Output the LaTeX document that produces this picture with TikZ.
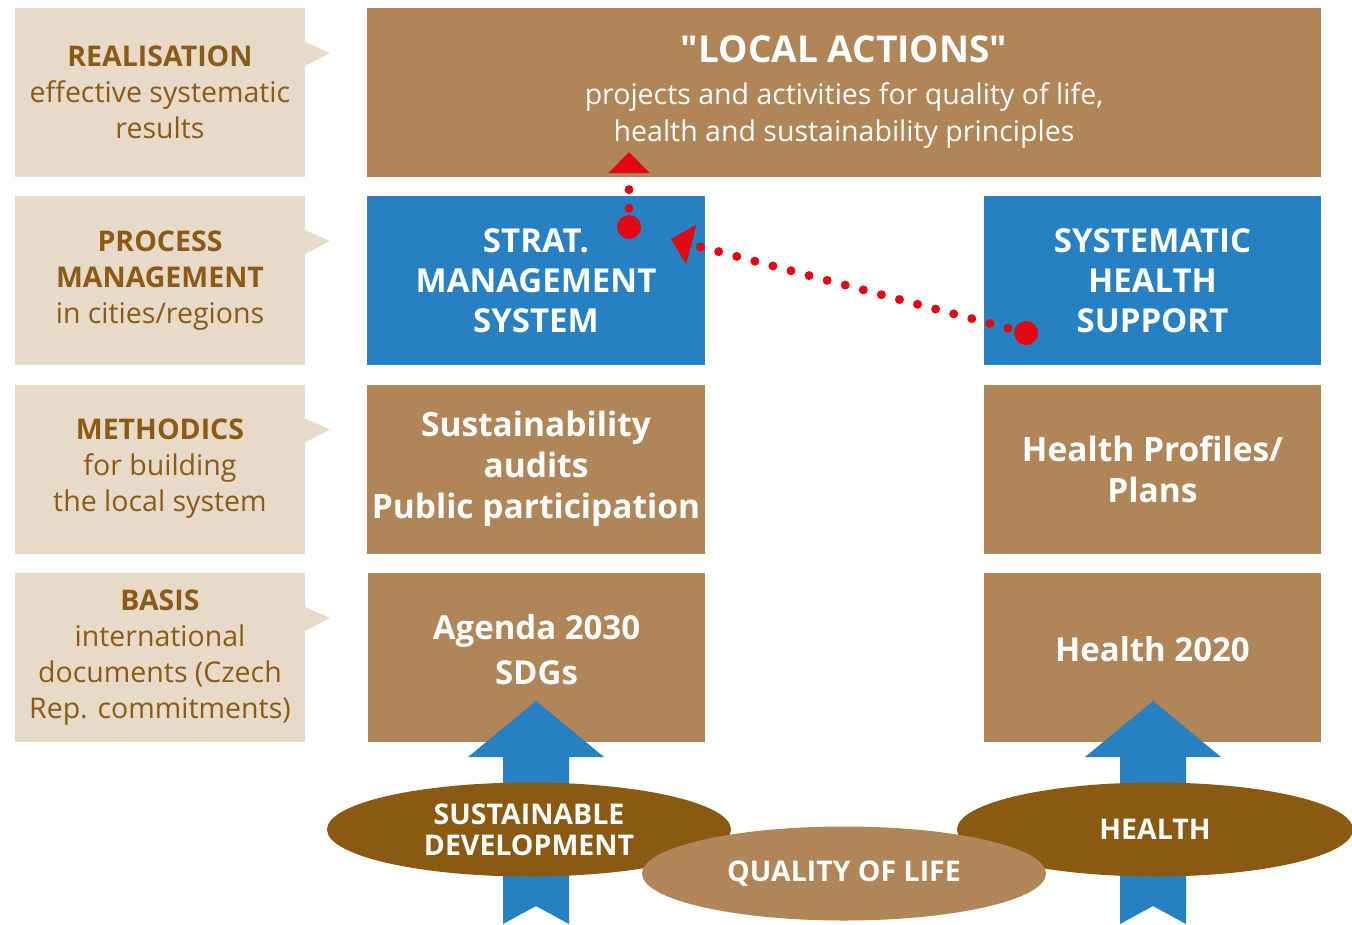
\documentclass[tikz,border=0pt]{standalone}
\usepackage{fontspec}
\setmainfont{Open Sans}[Ligatures=TeXOff]
\usepackage{xcolor}
\usepackage{tikz}
\usetikzlibrary{shapes.geometric,arrows.meta}

\definecolor{labfill}{HTML}{E8DAC8}
\definecolor{labtext}{HTML}{8B5A14}
\definecolor{boxbrown}{HTML}{B08557}
\definecolor{boxblue}{HTML}{2680C2}
\definecolor{darkbrown}{HTML}{8B5A12}
\definecolor{reddot}{HTML}{E30613}

\tikzset{
	lab/.style={fill=labfill,text=labtext,minimum width=290pt,minimum height=169pt,align=center,inner sep=0pt,outer sep=0pt,font=\fontsize{28.5}{36}\selectfont},
	colbox/.style={fill=#1,text=white,minimum width=338pt,minimum height=169pt,align=center,inner sep=0pt,outer sep=0pt},
	oval/.style={ellipse,fill=#1,text=white,minimum width=404pt,minimum height=94pt,inner sep=0pt,align=center,font=\bfseries\fontsize{28.5}{31}\selectfont},
	dotline/.style={draw=reddot,line width=9pt,line cap=round,dash pattern=on 0pt off 18.7pt,-{Triangle[length=21pt,width=41pt,line width=0pt]}}
}

\begin{document}
\begin{tikzpicture}[x=1pt,y=-1pt]
				\useasboundingbox (0,0) rectangle (1352,924);
				
				% left column
				\node[lab] (lab1) at (160,92.5) {\textbf{REALISATION}\\effective systematic\\results};
				\node[lab] (lab2) at (160,280.5) {\textbf{PROCESS}\\\textbf{MANAGEMENT}\\in cities/regions};
				\node[lab] (lab3) at (160,469) {\textbf{METHODICS}\\for building\\the local system};
				\node[lab] (lab4) at (160,657.5) {\textbf{BASIS}\\international\\documents (Czech\\Rep. commitments)};
				\foreach \n in {1,2,3,4}
					\fill[labfill] (lab\n.north east) ++(0,34) -- ++(25,11) -- ++(-25,13) -- cycle;
				
				% boxes
				\node[colbox=boxbrown,minimum width=954pt,font=\fontsize{28.5}{37}\selectfont] (local) at (844,92.5) {{\fontsize{37}{37}\selectfont\textbf{"LOCAL ACTIONS"}}\\[5pt]projects and activities for quality of life,\\health and sustainability principles};
				\node[colbox=boxblue,font=\bfseries\fontsize{33}{40}\selectfont] (strat) at (536,280.5) {STRAT.\\MANAGEMENT\\SYSTEM};
				\node[colbox=boxblue,font=\bfseries\fontsize{33}{40}\selectfont,minimum width=337pt] (support) at (1152.5,280.5) {SYSTEMATIC\\HEALTH\\SUPPORT};
				\node[colbox=boxbrown,font=\bfseries\fontsize{33.5}{41}\selectfont] (audits) at (536,469) {Sustainability\\audits\\Public participation};
				\node[colbox=boxbrown,font=\bfseries\fontsize{33.5}{41}\selectfont,minimum width=337pt] (profiles) at (1152.5,469) {Health Profiles/\\Plans};
				\node[colbox=boxbrown,font=\bfseries\fontsize{33}{45}\selectfont,minimum width=337pt] (agenda) at (536.5,657.5) {Agenda 2030\\SDGs\\[-29pt]};
				\node[colbox=boxbrown,font=\bfseries\fontsize{33}{45}\selectfont,minimum width=337pt] (health) at (1152.5,657.5) {Health 2020\\[-27pt]};
				
				% block arrows
				\foreach \cx in {536,1153}
					\fill[boxblue] (\cx,701) -- (\cx+68,757) -- (\cx+33,757) -- (\cx+33,924) -- (\cx,906) -- (\cx-33,924) -- (\cx-33,757) -- (\cx-68,757) -- cycle;
				
				% ovals
				\node[oval=darkbrown] (sd) at (529,829.5) {SUSTAINABLE\\DEVELOPMENT};
				\node[oval=darkbrown,minimum width=396pt] (he) at (1155,829.5) {HEALTH};
				\node[oval=boxbrown] (qol) at (844,873.5) {QUALITY OF LIFE};
				
				% red arrows
				\coordinate (s1) at (629,227);
				\coordinate (e1) at (629,152);
				\coordinate (s2) at (1026,333);
				\coordinate (e2) at (671,239);
				\draw[dotline] (s1) -- (e1);
				\draw[dotline] (s2) -- (e2);
				\fill[reddot] (s1) circle (12);
				\fill[reddot] (s2) circle (12);
			\end{tikzpicture}
\end{document}
